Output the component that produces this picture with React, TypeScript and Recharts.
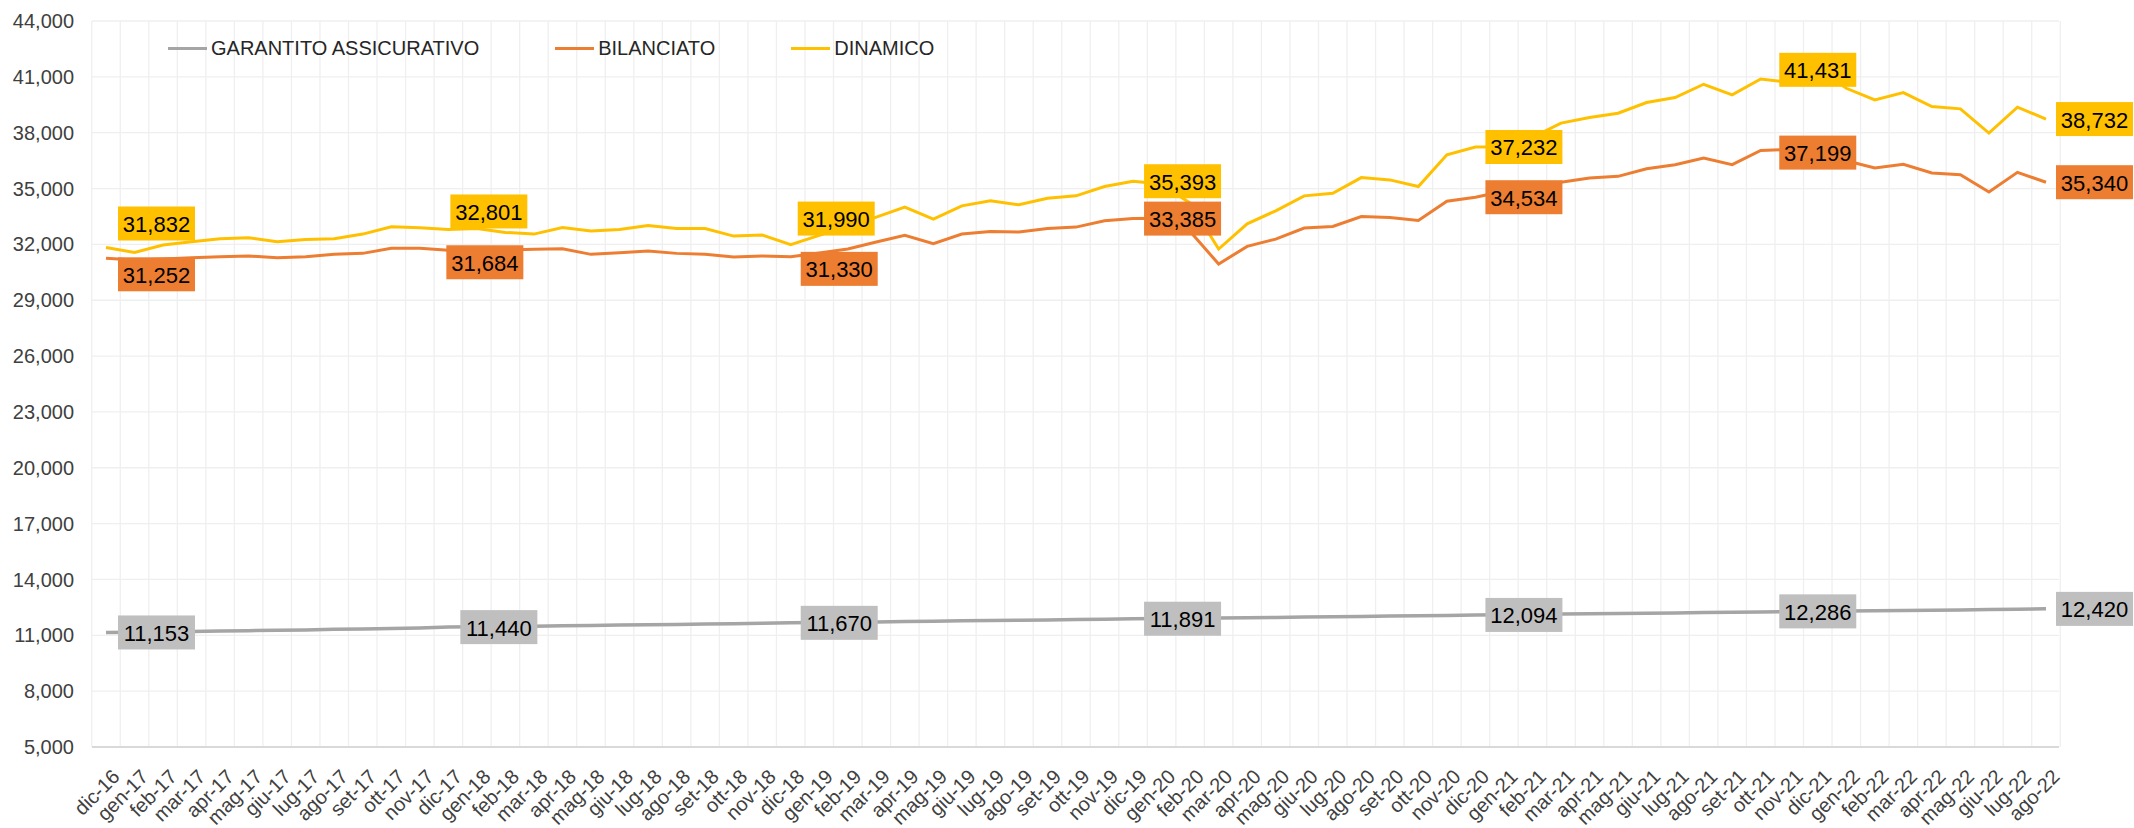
import React from 'react';
import {
  LineChart,
  Line,
  XAxis,
  YAxis,
  CartesianGrid,
  Legend,
  LabelList
} from 'recharts';

const MONTHS = [
  'dic-16',
  'gen-17', 'feb-17', 'mar-17', 'apr-17', 'mag-17', 'giu-17', 'lug-17', 'ago-17', 'set-17', 'ott-17', 'nov-17', 'dic-17',
  'gen-18', 'feb-18', 'mar-18', 'apr-18', 'mag-18', 'giu-18', 'lug-18', 'ago-18', 'set-18', 'ott-18', 'nov-18', 'dic-18',
  'gen-19', 'feb-19', 'mar-19', 'apr-19', 'mag-19', 'giu-19', 'lug-19', 'ago-19', 'set-19', 'ott-19', 'nov-19', 'dic-19',
  'gen-20', 'feb-20', 'mar-20', 'apr-20', 'mag-20', 'giu-20', 'lug-20', 'ago-20', 'set-20', 'ott-20', 'nov-20', 'dic-20',
  'gen-21', 'feb-21', 'mar-21', 'apr-21', 'mag-21', 'giu-21', 'lug-21', 'ago-21', 'set-21', 'ott-21', 'nov-21', 'dic-21',
  'gen-22', 'feb-22', 'mar-22', 'apr-22', 'mag-22', 'giu-22', 'lug-22', 'ago-22'
];

const GARANTITO = [
  11153,
  11168, 11190, 11204, 11229, 11248, 11270, 11291, 11320, 11342, 11371, 11396, 11440,
  11455, 11478, 11492, 11514, 11527, 11549, 11565, 11586, 11601, 11624, 11643, 11670,
  11686, 11707, 11720, 11742, 11755, 11777, 11791, 11814, 11829, 11851, 11866, 11891,
  11903, 11921, 11928, 11948, 11961, 11982, 11995, 12017, 12031, 12054, 12070, 12094,
  12108, 12127, 12138, 12158, 12170, 12190, 12202, 12222, 12234, 12254, 12266, 12286,
  12300, 12320, 12332, 12352, 12364, 12384, 12398, 12420
];

const BILANCIATO = [
  31252,
  31160, 31214, 31285, 31339, 31375, 31285, 31339, 31464, 31518, 31786, 31786, 31684,
  31660, 31700, 31732, 31767, 31464, 31553, 31642, 31517, 31464, 31321, 31380, 31330,
  31535, 31749, 32125, 32482, 32035, 32553, 32696, 32660, 32857, 32928, 33268, 33385,
  33400, 32696, 30946, 31892, 32285, 32875, 32964, 33500, 33446, 33285, 34316, 34534,
  34850, 35250, 35334, 35566, 35655, 36066, 36280, 36637, 36280, 37050, 37094, 37199,
  36494, 36101, 36298, 35834, 35744, 34816, 35869, 35340
];

const DINAMICO = [
  31832,
  31571, 31964, 32142, 32303, 32357, 32142, 32267, 32303, 32553, 32946, 32893, 32801,
  32857, 32642, 32553, 32910, 32714, 32803, 33018, 32857, 32857, 32446, 32500, 31990,
  32482, 32964, 33464, 34000, 33357, 34071, 34339, 34125, 34482, 34607, 35107, 35393,
  35250, 34214, 31750, 33107, 33803, 34607, 34750, 35589, 35464, 35107, 36816, 37232,
  37250, 37745, 38513, 38816, 39048, 39620, 39888, 40602, 40031, 40888, 40709, 41431,
  40385, 39763, 40156, 39406, 39281, 37977, 39370, 38732
];

const Y_TICKS = [5000, 8000, 11000, 14000, 17000, 20000, 23000, 26000, 29000, 32000, 35000, 38000, 41000, 44000];

// indices that carry a value box (every December + the last month)
const LABEL_IDX = [0, 12, 24, 36, 48, 60, 68];

const data = MONTHS.map((m, i) => ({
  month: m,
  gar: GARANTITO[i],
  bil: BILANCIATO[i],
  din: DINAMICO[i],
}));

const SERIES = [
  { key: 'gar', name: 'GARANTITO ASSICURATIVO', color: '#A5A5A5', box: '#BFBFBF', width: 3.5 },
  { key: 'bil', name: 'BILANCIATO', color: '#ED7D31', box: '#ED7D31', width: 3 },
  { key: 'din', name: 'DINAMICO', color: '#FFC000', box: '#FFC000', width: 3 },
];

// box placement relative to the point: [dx of box left edge, dy of box centre]
const BOX_W = 77;
const BOX_H = 34;
const C = -BOX_W / 2;
const LABEL_POS: Record<string, number[][]> = {
  gar: [[12, 0], [12, 0], [10, 0], [11, 0], [10, 0], [C, 0], [10, 0]],
  bil: [[12, 16], [-2, 12], [10, 12], [11, 0], [10, 0], [C, 5], [10, 0]],
  din: [[12, -24], [2, -18], [7, -26], [11, 0], [10, 0], [C, 1], [10, 0]],
};

const fmt = (v: number) => v.toLocaleString('en-US');

const makeLabel = (key: string, fill: string) => (props: any) => {
  const { x, y, value, index } = props;
  const k = LABEL_IDX.indexOf(index);
  if (k < 0) return null;
  const [dx, dy] = LABEL_POS[key][k];
  const bx = x + dx;
  const by = y + dy - BOX_H / 2;
  return (
    <g key={`${key}-${index}`}>
      <rect x={bx} y={by} width={BOX_W} height={BOX_H} fill={fill} />
      <text
        x={bx + BOX_W / 2}
        y={by + BOX_H / 2 + 1}
        textAnchor="middle"
        dominantBaseline="central"
        fontSize={22}
        fill="#000"
      >
        {fmt(value)}
      </text>
    </g>
  );
};

const XTick = ({ x, y, payload }: any) => {
  const ax = x + 10;
  return (
    <text
      x={ax}
      y={y}
      dy="0.35em"
      transform={`rotate(-45 ${ax} ${y})`}
      textAnchor="end"
      fontSize={20}
      fill="#404040"
    >
      {payload.value}
    </text>
  );
};

const renderLegend = () => (
  <div style={{ display: 'flex', alignItems: 'center', fontSize: 20, color: '#262626' }}>
    {SERIES.map(s => (
      <div key={s.key} style={{ display: 'flex', alignItems: 'center', marginRight: 76 }}>
        <div style={{ width: 39, height: 3, background: s.color, marginRight: 4 }} />
        <span style={{ whiteSpace: 'nowrap' }}>{s.name}</span>
      </div>
    ))}
  </div>
);

const verticalGrid = ({ offset }: any) => {
  const n = MONTHS.length;
  const step = (offset.width - 27) / (n - 1);
  const out: number[] = [];
  for (let k = 0; k <= n; k++) out.push(offset.left + 14 + (k - 0.5) * step);
  return out;
};

export default function App() {
  return (
    <div
      style={{
        position: 'absolute',
        left: 0,
        top: 0,
        width: 2134,
        height: 828,
        background: '#fff',
        fontFamily: '"Liberation Sans", Arial, sans-serif',
      }}
    >
      <LineChart
        width={2134}
        height={828}
        data={data}
        margin={{ top: 21, right: 75, left: 0, bottom: 0 }}
      >
        <CartesianGrid
          stroke="#EFEFEF"
          strokeWidth={1.3}
          verticalCoordinatesGenerator={verticalGrid}
        />
        <XAxis
          dataKey="month"
          interval={0}
          height={81}
          padding={{ left: 14, right: 13 }}
          tickLine={false}
          tickSize={6}
          tickMargin={20}
          axisLine={{ stroke: '#D9D9D9', strokeWidth: 2 }}
          tick={<XTick />}
        />
        <YAxis
          width={92}
          domain={[5000, 44000]}
          ticks={Y_TICKS}
          interval={0}
          tickLine={false}
          axisLine={false}
          tickSize={6}
          tickMargin={12}
          tickFormatter={fmt}
          tick={{ fontSize: 20, fill: '#404040' }}
        />
        <Legend
          content={renderLegend}
          layout="horizontal"
          verticalAlign="middle"
          align="center"
          wrapperStyle={{ top: 37, left: 168, width: 'auto' }}
        />
        {SERIES.map(s => (
          <Line
            key={s.key}
            type="linear"
            dataKey={s.key}
            name={s.name}
            stroke={s.color}
            strokeWidth={s.width}
            dot={false}
            activeDot={false}
            isAnimationActive={false}
          />
        ))}
        {SERIES.map(s => (
          <Line
            key={`${s.key}-labels`}
            type="linear"
            dataKey={s.key}
            stroke="none"
            dot={false}
            activeDot={false}
            legendType="none"
            isAnimationActive={false}
          >
            <LabelList dataKey={s.key} content={makeLabel(s.key, s.box)} />
          </Line>
        ))}
      </LineChart>
    </div>
  );
}
